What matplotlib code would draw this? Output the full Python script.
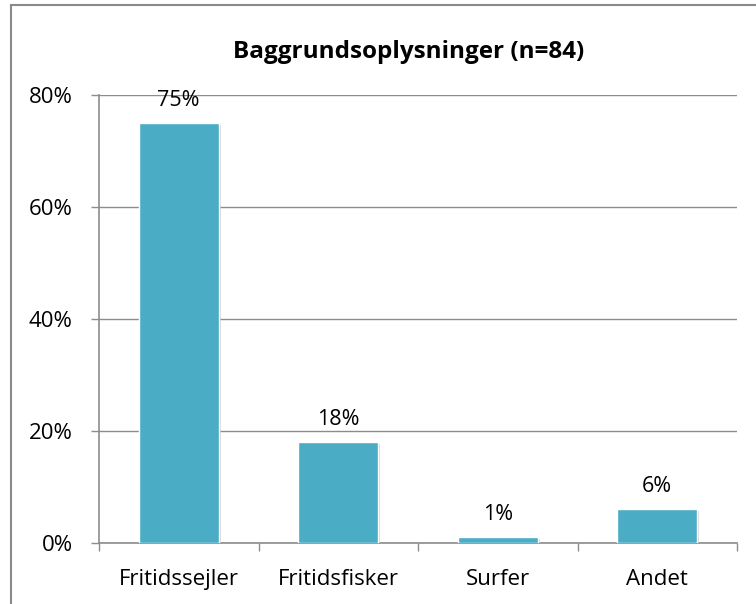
import matplotlib.pyplot as plt
import matplotlib.patheffects as pe
from matplotlib.patches import Rectangle
from matplotlib.ticker import FuncFormatter, FixedLocator

# Baggrundsoplysninger, andel af respondenter
categories = ["Fritidssejler", "Fritidsfisker", "Surfer", "Andet"]
shares = [0.75, 0.18, 0.01, 0.06]
title = "Baggrundsoplysninger (n=84)"

BAR_COLOR = "#4bacc6"
GRID_COLOR = "#8c8c8c"

plt.rcParams["font.family"] = ["Open Sans", "DejaVu Sans"]

fig = plt.figure(figsize=(7.56, 6.04), dpi=100)
ax = fig.add_axes([99 / 756, 1 - 543 / 604, (737 - 99) / 756, (543 - 95) / 604])

x = range(len(categories))
bars = ax.bar(x, shares, width=0.5, color=BAR_COLOR, edgecolor="white",
              linewidth=1.0, zorder=3)
for b in bars:
    b.set_path_effects([pe.SimplePatchShadow(offset=(1.5, -1.5), shadow_rgbFace="#bbbbbb",
                                             alpha=0.6), pe.Normal()])

for xi, v in zip(x, shares):
    ax.annotate(f"{v:.0%}", (xi, v), xytext=(0, 9), textcoords="offset points",
                ha="center", va="bottom", fontsize=15.5, color="black")

ax.set_xlim(-0.5, len(categories) - 0.5)
ax.set_ylim(0, 0.8)
ax.yaxis.set_major_locator(FixedLocator([0, 0.2, 0.4, 0.6, 0.8]))
ax.yaxis.set_major_formatter(FuncFormatter(lambda v, _: f"{v:.0%}"))
ax.grid(axis="y", color=GRID_COLOR, linewidth=1.0, zorder=0)

ax.set_xticks(list(x))
ax.set_xticklabels(categories, fontsize=16)
ax.set_xticks([i - 0.5 for i in range(len(categories) + 1)], minor=True)
ax.tick_params(axis="x", which="major", length=0, pad=19)
ax.tick_params(axis="x", which="minor", length=6, color=GRID_COLOR, width=1.0,
               direction="out")
ax.tick_params(axis="y", length=6, color=GRID_COLOR, width=1.0, labelsize=16,
               pad=13)

for side in ("top", "right"):
    ax.spines[side].set_visible(False)
for side in ("left", "bottom"):
    ax.spines[side].set_color(GRID_COLOR)
    ax.spines[side].set_linewidth(1.2)

fig.text(409 / 756, 1 - 52 / 604, title, ha="center", va="center",
         fontsize=17.5, fontweight="bold")

# chart area frame
fig.add_artist(Rectangle((11 / 756, -0.1), 1.2, 1 - 5.5 / 604 + 0.1,
                         transform=fig.transFigure, fill=False,
                         edgecolor="#8a8a8a", linewidth=1.5))

fig.savefig("out.png", dpi=100)
